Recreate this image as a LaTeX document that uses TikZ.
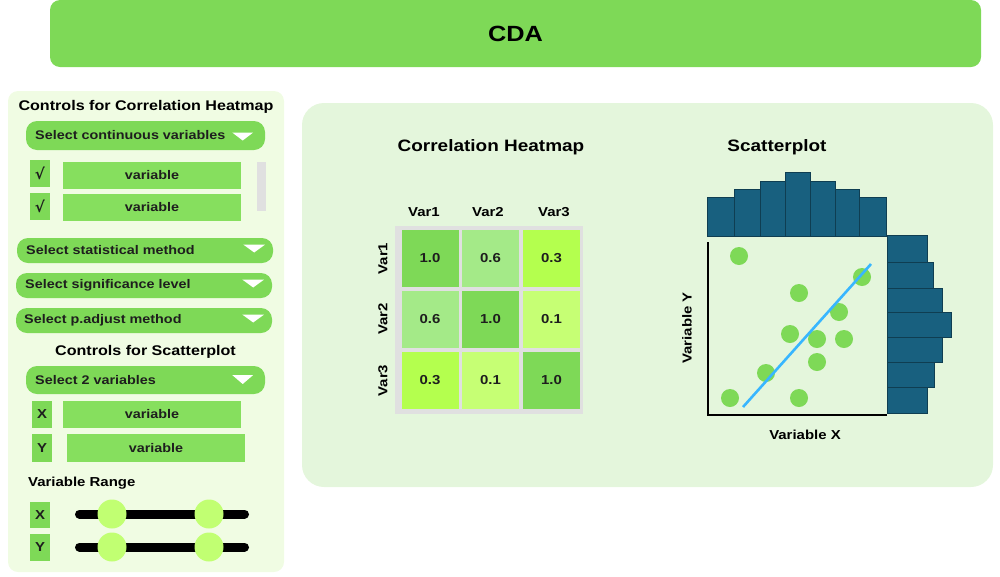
\documentclass[tikz,border=0pt]{standalone}
\usepackage{fontspec}
\setmainfont{Liberation Sans}[FakeStretch=1.15]
\newfontfamily\checkfont{DejaVu Sans}
\usetikzlibrary{calc}
\definecolor{cdagreen}{HTML}{7ED957}
\definecolor{varbox}{HTML}{86DF5E}
\definecolor{leftbg}{HTML}{F0FCE3}
\definecolor{rightbg}{HTML}{E4F6DC}
\definecolor{knobc}{HTML}{C1FF72}
\definecolor{hmgray}{HTML}{E0E0E0}
\definecolor{cSix}{HTML}{A4EA88}
\definecolor{cThree}{HTML}{B4FF4E}
\definecolor{cOne}{HTML}{C6FF74}
\definecolor{histc}{HTML}{18607F}
\definecolor{histedge}{HTML}{0F3E52}
\definecolor{fitline}{HTML}{38B6FF}
\definecolor{txt}{HTML}{1E1E1E}
\tikzset{
  titlebar/.style={fill=cdagreen, rounded corners=10pt, minimum width=931pt, minimum height=67pt, inner sep=0pt, font=\bfseries\fontsize{22}{24}\selectfont},
  panelbox/.style={rounded corners=#1, inner sep=0pt},
  heading/.style={font=\bfseries\fontsize{14}{16}\selectfont, text=black, inner sep=0pt},
  ddbox/.style={fill=cdagreen, rounded corners=11pt, inner sep=0pt},
  ddtext/.style={font=\bfseries\fontsize{12.5}{14}\selectfont, text=txt, inner sep=0pt, anchor=west},
  ddtri/.style={fill=white},
  chk/.style={fill=cdagreen, minimum width=20pt, minimum height=27pt, inner sep=0pt, font=\bfseries\fontsize{13}{14}\selectfont, text=txt},
  varfield/.style={fill=varbox, minimum height=27pt, inner sep=0pt, font=\bfseries\fontsize{12.5}{14}\selectfont, text=txt},
  knob/.style={circle, fill=knobc, minimum size=29pt, inner sep=0pt},
  track/.style={line width=9pt, line cap=round, black},
  cell/.style={minimum width=57pt, minimum height=57pt, inner sep=0pt, font=\bfseries\fontsize{13}{14}\selectfont, text=txt},
  axlabel/.style={font=\bfseries\fontsize{13}{14}\selectfont, text=black, inner sep=0pt},
  hist/.style={fill=histc, draw=histedge, line width=1pt},
  pt/.style={circle, fill=cdagreen, minimum size=18pt, inner sep=0pt},
}
\begin{document}
\begin{tikzpicture}[x=1pt,y=-1pt]
\useasboundingbox (0,0) rectangle (1000,576);
% title
\node[titlebar] (title) at (515.5,33.5) {CDA};
% panels
\node[panelbox=10pt, fill=leftbg, minimum width=276pt, minimum height=481pt] (left) at (146,331.5) {};
\node[panelbox=22pt, fill=rightbg, minimum width=691pt, minimum height=384pt] (right) at (647.5,295) {};

% ---- left controls: heatmap
\node[heading] (h1) at (146,107) {Controls for Correlation Heatmap};
\node[ddbox, minimum width=239pt, minimum height=29pt] (dd1) at (145.5,135.5) {};
\node[ddtext] (dd1t) at (35,135.5) {Select continuous variables};
\fill[ddtri] ($(dd1.east)+(-33,-3)$) -- ++(21,0) -- ++(-10.5,8) -- cycle;

\node[chk, font=\checkfont\bfseries\fontsize{15}{15}\selectfont] (c1) at (40,173) {√};
\node[varfield, minimum width=178pt] (v1) at (152,175.5) {variable};
\node[chk, font=\checkfont\bfseries\fontsize{15}{15}\selectfont] (c2) at (40,206.5) {√};
\node[varfield, minimum width=178pt] (v2) at (152,207.5) {variable};
\node[fill=hmgray, minimum width=9pt, minimum height=49pt, inner sep=0pt] (scroll) at (261.5,186.5) {};

\node[ddbox, minimum width=256pt, minimum height=25pt] (dd2) at (145,250.5) {};
\node[ddtext] (dd2t) at (26,250.5) {Select statistical method};
\fill[ddtri] ($(dd2.east)+(-30,-6)$) -- ++(22,0) -- ++(-11,8) -- cycle;

\node[ddbox, minimum width=256pt, minimum height=25pt] (dd3) at (144,285.5) {};
\node[ddtext] (dd3t) at (25,285.5) {Select significance level};
\fill[ddtri] ($(dd3.east)+(-30,-6)$) -- ++(22,0) -- ++(-11,8) -- cycle;

\node[ddbox, minimum width=256pt, minimum height=25pt] (dd4) at (144,320.5) {};
\node[ddtext] (dd4t) at (24,320.5) {Select p.adjust method};
\fill[ddtri] ($(dd4.east)+(-30,-6)$) -- ++(22,0) -- ++(-11,8) -- cycle;

% ---- left controls: scatterplot
\node[heading] (h2) at (145.5,352) {Controls for Scatterplot};
\node[ddbox, minimum width=239pt, minimum height=28pt] (dd5) at (145.5,380) {};
\node[ddtext] (dd5t) at (35,380) {Select 2 variables};
\fill[ddtri] ($(dd5.east)+(-33,-5)$) -- ++(21,0) -- ++(-10.5,9) -- cycle;

\node[chk] (cx) at (42,414.5) {X};
\node[varfield, minimum width=178pt] (vx) at (152,414.5) {variable};
\node[chk, minimum height=28pt] (cy) at (42,448) {Y};
\node[varfield, minimum width=178pt, minimum height=28pt] (vy) at (156,448) {variable};

\node[heading, font=\bfseries\fontsize{13}{14}\selectfont, anchor=west] (vr) at (28,483) {Variable Range};

\node[chk, minimum height=26pt] (rx) at (40,515) {X};
\coordinate (sxa) at (79.5,514);
\coordinate (sxb) at (244.5,514);
\draw[track] (sxa) -- (sxb);
\node[knob] (kx1) at (112,514) {};
\node[knob] (kx2) at (209,514) {};

\node[chk, minimum height=27pt] (ry) at (40,547.5) {Y};
\coordinate (sya) at (79.5,547);
\coordinate (syb) at (244.5,547);
\draw[track] (sya) -- (syb);
\node[knob] (ky1) at (112,547) {};
\node[knob] (ky2) at (209,547) {};

% ---- heatmap
\node[heading, font=\bfseries\fontsize{16.5}{18}\selectfont] (hmt) at (491,147) {Correlation Heatmap};
\node[fill=hmgray, minimum width=188pt, minimum height=188pt, inner sep=0pt] (hmbg) at (489,320) {};
\node[axlabel] (cl1) at (424,212) {Var1};
\node[axlabel] (cl2) at (488,212) {Var2};
\node[axlabel] (cl3) at (554,212) {Var3};
\node[axlabel, rotate=90] (rl1) at (383,258.5) {Var1};
\node[axlabel, rotate=90] (rl2) at (383,319) {Var2};
\node[axlabel, rotate=90] (rl3) at (383,380.5) {Var3};
\node[cell, fill=cdagreen] (m11) at (430,258.5) {1.0};
\node[cell, fill=cSix]     (m12) at (490.5,258.5) {0.6};
\node[cell, fill=cThree]   (m13) at (551.5,258.5) {0.3};
\node[cell, fill=cSix]     (m21) at (430,319) {0.6};
\node[cell, fill=cdagreen] (m22) at (490.5,319) {1.0};
\node[cell, fill=cOne]     (m23) at (551.5,319) {0.1};
\node[cell, fill=cThree]   (m31) at (430,380.5) {0.3};
\node[cell, fill=cOne]     (m32) at (490.5,380.5) {0.1};
\node[cell, fill=cdagreen] (m33) at (551.5,380.5) {1.0};

% ---- scatterplot
\node[heading, font=\bfseries\fontsize{16.5}{18}\selectfont] (spt) at (777,147) {Scatterplot};
% top histogram
\filldraw[hist] (707,236) rectangle (734,197);
\filldraw[hist] (734,236) rectangle (760,189);
\filldraw[hist] (760,236) rectangle (785,181);
\filldraw[hist] (785,236) rectangle (810,172);
\filldraw[hist] (810,236) rectangle (835,181);
\filldraw[hist] (835,236) rectangle (859,189);
\filldraw[hist] (859,236) rectangle (886,197);
% right histogram
\filldraw[hist] (887,235) rectangle (927,262);
\filldraw[hist] (887,262) rectangle (933,288);
\filldraw[hist] (887,288) rectangle (942,312);
\filldraw[hist] (887,312) rectangle (951,337);
\filldraw[hist] (887,337) rectangle (942,362);
\filldraw[hist] (887,362) rectangle (934,387);
\filldraw[hist] (887,387) rectangle (927,413);
% axes
\coordinate (ax0) at (708,415);
\coordinate (axy) at (708,242);
\coordinate (axx) at (887,415);
\draw[line width=1.6pt, black] (axy) -- (ax0) -- (axx);
% points
\node[pt] (p1) at (739,256) {};
\node[pt] (p2) at (862,277) {};
\node[pt] (p3) at (799,293) {};
\node[pt] (p4) at (839,312) {};
\node[pt] (p5) at (790,334) {};
\node[pt] (p6) at (817,339) {};
\node[pt] (p7) at (844,339) {};
\node[pt] (p8) at (817,362) {};
\node[pt] (p9) at (766,373) {};
\node[pt] (p10) at (730,398) {};
\node[pt] (p11) at (799,398) {};
% fit line
\coordinate (fa) at (743,407);
\coordinate (fb) at (871,264);
\draw[fitline, line width=2.6pt] (fa) -- (fb);
\node[axlabel] (xl) at (805,435) {Variable X};
\node[axlabel, rotate=90] (yl) at (687,328) {Variable Y};
\end{tikzpicture}
\end{document}
